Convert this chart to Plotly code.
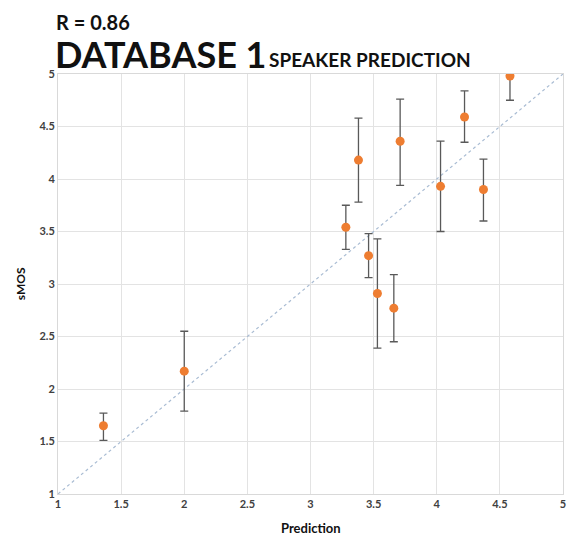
import plotly.graph_objects as go

prediction = [1.36, 2.0, 3.28, 3.38, 3.46, 3.53, 3.66, 3.71, 4.03, 4.22, 4.37, 4.58]
smos =       [1.65, 2.17, 3.54, 4.18, 3.27, 2.91, 2.77, 4.36, 3.93, 4.59, 3.90, 4.98]
err_upper =  [1.77, 2.55, 3.75, 4.58, 3.48, 3.43, 3.09, 4.76, 4.36, 4.84, 4.19, 5.20]
err_lower =  [1.51, 1.79, 3.33, 3.78, 3.06, 2.39, 2.45, 3.94, 3.50, 4.35, 3.60, 4.75]
ticks = [1, 1.5, 2, 2.5, 3, 3.5, 4, 4.5, 5]
tick_text = ["1", "1.5", "2", "2.5", "3", "3.5", "4", "4.5", "5"]

plus = [u - s for u, s in zip(err_upper, smos)]
minus = [s - l for s, l in zip(smos, err_lower)]

FONT = "Lato"
fig = go.Figure()
fig.add_trace(go.Scatter(
    x=[1, 5], y=[1, 5], mode="lines",
    line=dict(color="#A9BCD3", width=1.2, dash="dot"),
    hoverinfo="skip", showlegend=False))
fig.add_trace(go.Scatter(
    x=prediction, y=smos, mode="markers",
    marker=dict(color="#EE7D31", size=9),
    error_y=dict(type="data", symmetric=False, array=plus, arrayminus=minus,
                 color="#595959", thickness=1.3, width=4),
    showlegend=False, cliponaxis=True))

axis_common = dict(
    range=[1, 5], tickvals=ticks, ticktext=["<b>%s</b>" % t for t in tick_text],
    showgrid=True, gridcolor="#E3E3E3", gridwidth=1,
    zeroline=False, showline=True, linecolor="#D9D9D9", linewidth=1, mirror=True,
    tickfont=dict(family=FONT, size=11, color="#404040"), ticks="",
    automargin=False, ticklabeloverflow="allow",
)
fig.update_layout(
    width=569, height=535,
    margin=dict(l=58, r=6, t=74, b=41),
    paper_bgcolor="white", plot_bgcolor="white",
    xaxis=dict(**axis_common),
    yaxis=dict(**axis_common),
    font=dict(family=FONT),
    annotations=[
        dict(text="<b>R = 0.86</b>", xref="paper", yref="paper", x=-0.008, y=1.123,
             xanchor="left", yanchor="middle", showarrow=False,
             font=dict(family=FONT, size=20, color="#111111")),
        dict(text="<b>DATABASE 1</b>", xref="paper", yref="paper", x=-0.01, y=1.048,
             xanchor="left", yanchor="middle", showarrow=False,
             font=dict(family=FONT, size=36, color="#111111")),
        dict(text="<b>SPEAKER PREDICTION</b>", xref="paper", yref="paper", x=0.413, y=1.035,
             xanchor="left", yanchor="middle", showarrow=False,
             font=dict(family=FONT, size=19, color="#111111")),
        dict(text="<b>sMOS</b>", xref="paper", yref="paper", x=-0.075, y=0.5,
             xanchor="center", yanchor="middle", textangle=-90, showarrow=False,
             font=dict(family=FONT, size=12, color="#111111")),
        dict(text="<b>Prediction</b>", xref="paper", yref="paper", x=0.5, y=-0.08,
             xanchor="center", yanchor="middle", showarrow=False,
             font=dict(family=FONT, size=13, color="#111111")),
    ],
)
fig.write_html("out.html")
